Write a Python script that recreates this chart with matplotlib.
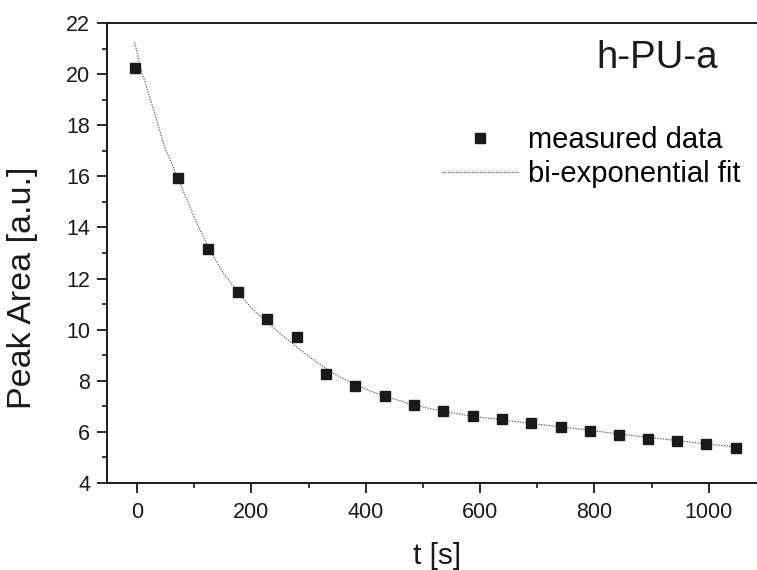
import matplotlib
matplotlib.use("Agg")
import matplotlib.pyplot as plt
from matplotlib.ticker import MultipleLocator

plt.rcParams['font.family'] = ['Liberation Sans', 'DejaVu Sans']

# measured data
t_meas = [-4, 72, 125, 177, 227, 279, 331, 382, 434, 484, 536, 588, 638, 690,
          741, 792, 843, 894, 945, 996, 1048]
area_meas = [20.25, 15.92, 13.15, 11.49, 10.41, 9.72, 8.26, 7.81, 7.42, 7.05,
             6.82, 6.62, 6.49, 6.34, 6.21, 6.04, 5.87, 5.74, 5.65, 5.52, 5.38]

# bi-exponential fit
t_fit = [-4, 6, 31, 48, 72, 100, 125, 150, 177, 200, 227, 253, 279, 305, 331,
         356, 382, 408, 434, 484, 536, 588, 638, 690, 741, 792, 843, 894, 945,
         996, 1048]
area_fit = [21.24, 20.25, 18.47, 17.16, 15.9, 14.4, 13.2, 12.25, 11.45, 10.85,
            10.3, 9.8, 9.33, 8.88, 8.47, 8.13, 7.85, 7.6, 7.4, 7.05, 6.8, 6.61,
            6.47, 6.33, 6.2, 6.06, 5.92, 5.79, 5.66, 5.53, 5.41]

W, H = 757, 570
fig = plt.figure(figsize=(W / 100, H / 100), dpi=100)
ax = fig.add_axes([107 / W, (H - 483) / H, (767 - 107) / W, 460 / H])

ax.plot(t_fit, area_fit, linestyle=(0, (1.2, 1.2)), color='#555555', lw=0.8,
        label='bi-exponential fit', zorder=2)
ax.plot(t_meas, area_meas, linestyle='none', marker='s', ms=6.8, color='#1a1a1a',
        label='measured data', zorder=3)

ax.set_xlim(-52.5, 1102)
ax.set_ylim(4, 22)
ax.xaxis.set_major_locator(MultipleLocator(200))
ax.xaxis.set_minor_locator(MultipleLocator(100))
ax.yaxis.set_major_locator(MultipleLocator(2))
ax.yaxis.set_minor_locator(MultipleLocator(1))

for side in ['left', 'bottom', 'top']:
    ax.spines[side].set_linewidth(1.4)
    ax.spines[side].set_color('#1a1a1a')
ax.spines['right'].set_visible(False)

ax.tick_params(which='major', direction='out', length=7, width=1.3,
               labelsize=15.5, pad=5, colors='#1a1a1a')
ax.tick_params(axis='x', which='major', pad=7)
ax.tick_params(which='minor', direction='out', length=3.5, width=1.2,
               colors='#1a1a1a')
ax.tick_params(top=False, right=False, which='both')

ax.set_xlabel('t [s]', fontsize=21.5, labelpad=13, color='#1a1a1a')
ax.set_ylabel('Peak Area [a.u.]', fontsize=24.5, color='#1a1a1a')
ax.yaxis.set_label_coords(-0.104, 0.424)

ax.text(0.834, 0.925, 'h-PU-a', transform=ax.transAxes, fontsize=27.5,
        ha='center', va='center', color='#1a1a1a')

handles, labels = ax.get_legend_handles_labels()
leg = ax.legend(handles[::-1], labels[::-1], loc='upper left',
                bbox_to_anchor=(0.508, 0.776), frameon=False, fontsize=21,
                handlelength=2.6, handletextpad=0.34, labelspacing=0.22,
                borderaxespad=0, borderpad=0)

fig.savefig('out.png', dpi=100)
